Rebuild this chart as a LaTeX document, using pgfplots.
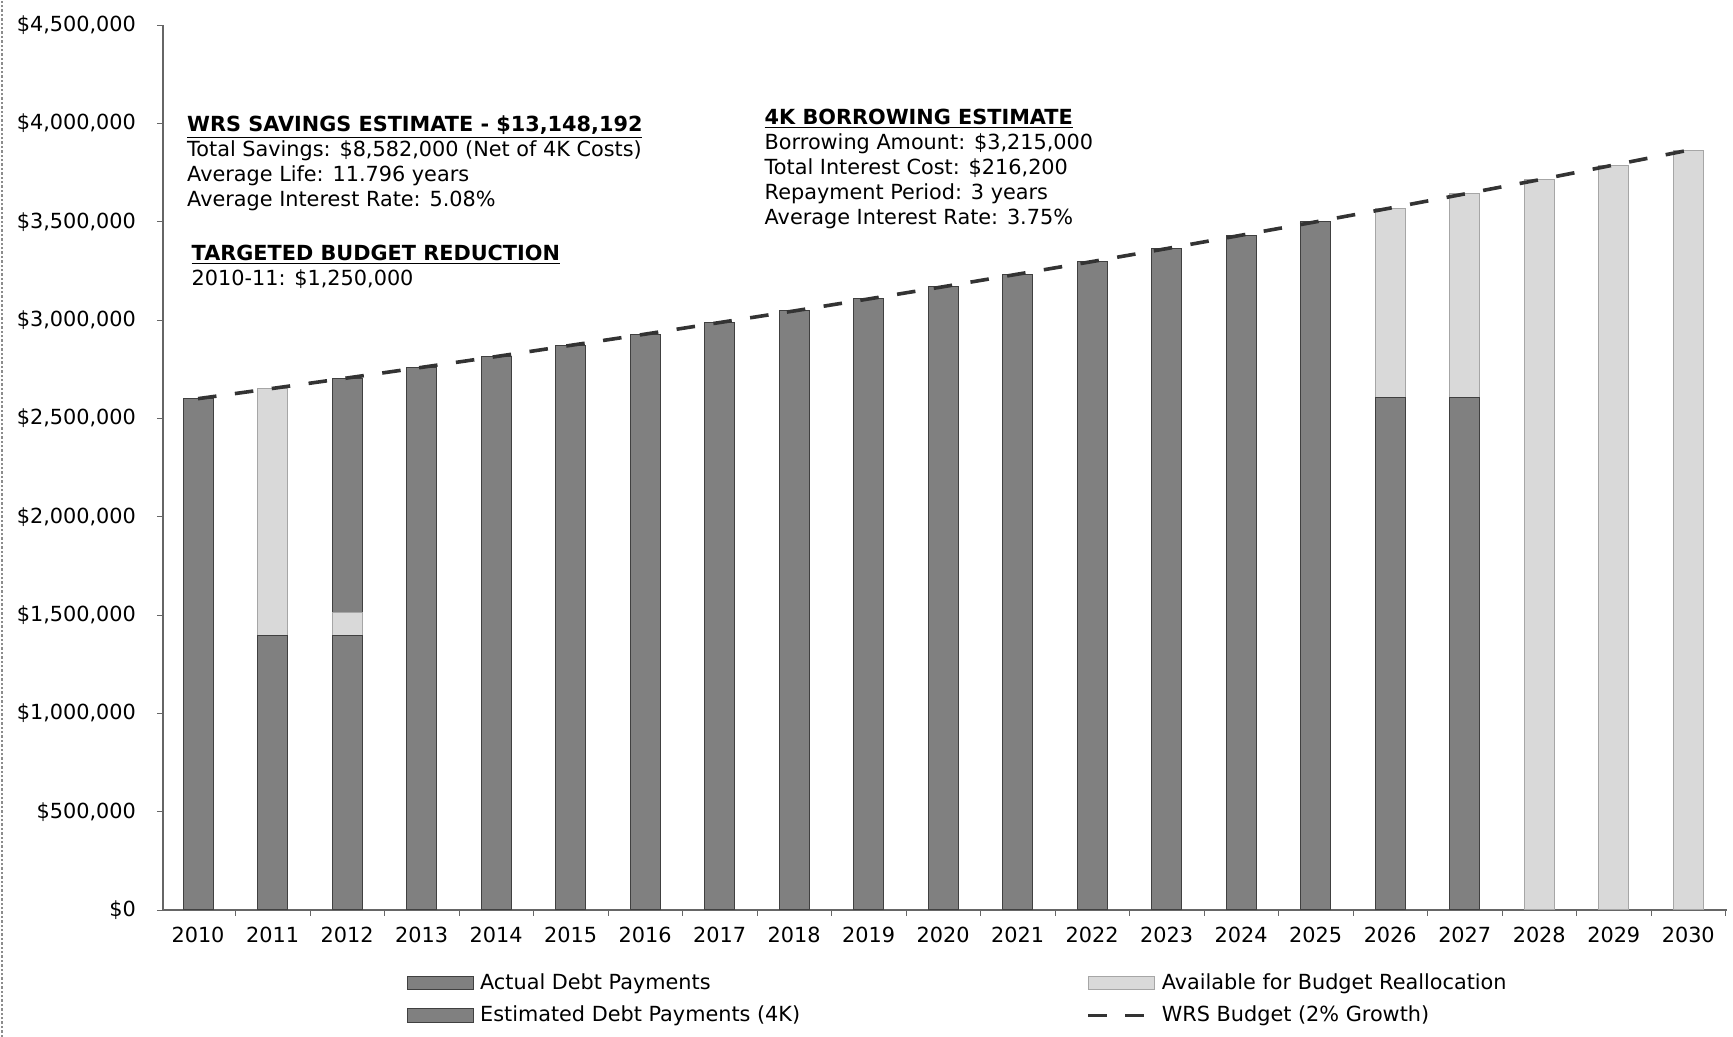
\documentclass[border=0pt]{standalone}
\usepackage{pgfplots}
\pgfplotsset{compat=1.18}
\usepackage{fontspec}
\setmainfont{DejaVu Sans}

% values in dollars, x = 0 (2010) ... 20 (2030)
\pgfplotstableread{
x actual avail est budget
0  2600000       0       0 2600000
1  1396000 1256000       0 2652000
2  1396000  115000 1194000 2705000
3  2759000       0       0 2759000
4  2814000       0       0 2814000
5  2871000       0       0 2871000
6  2928000       0       0 2928000
7  2987000       0       0 2987000
8  3046000       0       0 3046000
9  3107000       0       0 3107000
10 3169000       0       0 3169000
11 3233000       0       0 3233000
12 3297000       0       0 3297000
13 3363000       0       0 3363000
14 3431000       0       0 3431000
15 3499000       0       0 3499000
16 2605000  964000       0 3569000
17 2605000 1036000       0 3641000
18       0 3713000       0 3713000
19       0 3788000       0 3788000
20       0 3863000       0 3863000
}\debt

\colorlet{darkbar}{black!50}
\colorlet{lightbar}{black!15}

\pgfplotsset{
  barleg/.style={legend image code/.code={\draw[##1] (0pt,-3.3pt) rectangle (33pt,3.3pt);}},
  lineleg/.style={legend image code/.code={\draw[##1] (0pt,0pt) -- (33pt,0pt);}},
  budgetline/.style={no marks, black!80, line width=1.8pt, dash pattern=on 9.3pt off 9.3pt},
  frame/.style={
    at={(0,0)}, anchor=south west,
    scale only axis, width=782pt, height=442.5pt,
    xmin=-0.47, xmax=20.52,
    ymin=0, ymax=4500000,
  },
}

\begin{document}
\begin{tikzpicture}[font=\fontsize{10.4}{12.5}\selectfont]
\useasboundingbox (-81.5pt,-63.5pt) rectangle (785pt,455pt);
\draw[black!45, densely dotted, line width=1.2pt] (-80.5pt,-63.5pt) -- (-80.5pt,455pt);
\begin{axis}[
  frame,
  ybar stacked, bar width=15pt,
  axis lines*=left,
  axis line style={black!60, line width=0.6pt},
  xtick={0,...,20},
  xticklabels={2010,2011,2012,2013,2014,2015,2016,2017,2018,2019,2020,2021,2022,2023,2024,2025,2026,2027,2028,2029,2030},
  major x tick style={draw=none},
  minor xtick={-0.5,0.5,...,20.5},
  minor tick length=3pt,
  minor x tick style={black!60},
  ytick={0,500000,...,4500000},
  yticklabels={\$0,{\$500,000},{\$1,000,000},{\$1,500,000},{\$2,000,000},{\$2,500,000},{\$3,000,000},{\$3,500,000},{\$4,000,000},{\$4,500,000}},
  scaled y ticks=false,
  major tick length=3pt,
  tick align=outside,
  y tick style={black!60},
  yticklabel style={xshift=-7pt},
  xticklabel style={yshift=-2pt},
  /pgf/number format/assume math mode=true,
  legend columns=2,
  legend cell align=left,
  legend style={draw=none, fill=none, at={(0.152,-0.062)}, anchor=north west,
    row sep=3pt,
    /tikz/every even column/.append style={column sep=140pt},
    nodes={inner xsep=3pt}},
]
\addplot+[ybar stacked, fill=darkbar, draw=black!75, line width=0.5pt, barleg]
  table[x=x, y=actual] {\debt};
\addlegendentry{Actual Debt Payments}
\addplot+[ybar stacked, fill=lightbar, draw=black!35, line width=0.5pt, barleg]
  table[x=x, y=avail] {\debt};
\addlegendentry{Available for Budget Reallocation}
\addplot+[ybar stacked, fill=darkbar, draw=black!75, line width=0.5pt, barleg]
  table[x=x, y=est] {\debt};
\addlegendentry{Estimated Debt Payments (4K)}
\addlegendimage{budgetline, lineleg}
\addlegendentry{WRS Budget (2\% Growth)}

\node[anchor=north west, align=left, inner sep=0pt] at (axis cs:-0.15,4040000)
  {\textbf{\underline{WRS SAVINGS ESTIMATE - \$13,148,192}}\\
   Total Savings: \$8,582,000 (Net of 4K Costs)\\
   Average Life: 11.796 years\\
   Average Interest Rate: 5.08\%};
\node[anchor=north west, align=left, inner sep=0pt] at (axis cs:-0.09,3385000)
  {\textbf{\underline{TARGETED BUDGET REDUCTION}}\\
   2010-11: \$1,250,000};
\node[anchor=north west, align=left, inner sep=0pt] at (axis cs:7.6,4075000)
  {\textbf{\underline{4K BORROWING ESTIMATE}}\\
   Borrowing Amount: \$3,215,000\\
   Total Interest Cost: \$216,200\\
   Repayment Period: 3 years\\
   Average Interest Rate: 3.75\%};
\end{axis}
% budget line on top of the stacked bars, same frame
\begin{axis}[frame, axis lines=none, xtick=\empty, ytick=\empty]
\addplot[budgetline, sharp plot] table[x=x, y=budget] {\debt};
\end{axis}
\end{tikzpicture}
\end{document}
